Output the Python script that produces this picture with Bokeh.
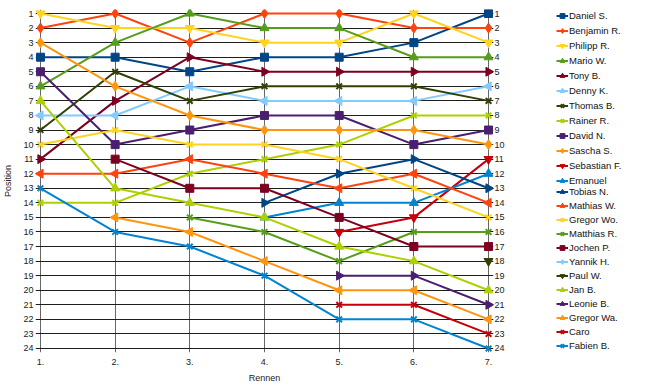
import math
import numpy as np
from bokeh.plotting import figure
from bokeh.layouts import row
from bokeh.models import Range1d, FixedTicker, ColumnDataSource, Legend, LegendItem, LinearAxis
from bokeh.embed import file_html
from bokeh.resources import INLINE

N = None
races = [1, 2, 3, 4, 5, 6, 7]
race_labels = ["1.", "2.", "3.", "4.", "5.", "6.", "7."]
position_ticks = list(range(1, 25))

names = ["Daniel S.", "Benjamin R.", "Philipp R.", "Mario W.", "Tony B.", "Denny K.",
         "Thomas B.", "Rainer R.", "David N.", "Sascha S.", "Sebastian F.", "Emanuel",
         "Tobias N.", "Mathias W.", "Gregor Wo.", "Matthias R.", "Jochen P.", "Yannik H.",
         "Paul W.", "Jan B.", "Leonie B.", "Gregor Wa.", "Caro", "Fabien B."]

daniel_s = [4, 4, 5, 4, 4, 3, 1]
benjamin_r = [2, 1, 3, 1, 1, 2, 2]
philipp_r = [1, 2, 2, 3, 3, 1, 3]
mario_w = [6, 3, 1, 2, 2, 4, 4]
tony_b = [11, 7, 4, 5, 5, 5, 5]
denny_k = [8, 8, 6, 7, 7, 7, 6]
thomas_b = [9, 5, 7, 6, 6, 6, 7]
rainer_r = [14, 14, 12, 11, 10, 8, 8]
david_n = [5, 10, 9, 8, 8, 10, 9]
sascha_s = [3, 6, 8, 9, 9, 9, 10]
sebastian_f = [N, N, N, N, 16, 15, 11]
emanuel = [N, N, N, 15, 14, 14, 12]
tobias_n = [N, N, N, 14, 12, 11, 13]
mathias_w = [12, 12, 11, 12, 13, 12, 14]
gregor_wo = [10, 9, 10, 10, 11, 13, 15]
matthias_r = [N, N, 15, 16, 18, 16, 16]
jochen_p = [N, 11, 13, 13, 15, 17, 17]
yannik_h = [N, N, N, N, N, N, N]
paul_w = [N, N, N, N, N, N, 18]
jan_b = [7, 13, 14, 15, 17, 18, 20]
leonie_b = [N, N, N, N, 19, 19, 21]
gregor_wa = [N, 15, 16, 18, 20, 20, 22]
caro = [N, N, N, N, 21, 21, 23]
fabien_b = [13, 16, 17, 19, 22, 22, 24]

series = [daniel_s, benjamin_r, philipp_r, mario_w, tony_b, denny_k, thomas_b, rainer_r,
          david_n, sascha_s, sebastian_f, emanuel, tobias_n, mathias_w, gregor_wo,
          matthias_r, jochen_p, yannik_h, paul_w, jan_b, leonie_b, gregor_wa, caro, fabien_b]

palette = ["#004586", "#ff420e", "#ffd320", "#579d1c", "#7e0021", "#83caff",
           "#314004", "#aecf00", "#4b1f6f", "#ff950e", "#c5000b", "#0084d1"]

# marker shape cycle: square, diamond, down, up, right, left, bowtie, hourglass
marker_cycle = [("square", 0.0, 8), ("diamond", 0.0, 10), ("inverted_triangle", 0.0, 9),
                ("triangle", 0.0, 9), ("triangle", -math.pi / 2, 9), ("triangle", math.pi / 2, 9),
                ("x", 0.0, 8), ("x", 0.0, 8)]

FONT = "Liberation Sans"
H = 387

p = figure(width=520, height=H, output_backend="svg", toolbar_location=None,
           x_range=Range1d(0.93363, 7.06637), y_range=Range1d(24.27463, 0.72537),
           min_border_left=31, min_border_right=27, min_border_top=9, min_border_bottom=35)
p.outline_line_color = None
p.background_fill_color = "white"

right_axis = LinearAxis()
p.add_layout(right_axis, "right")

p.xaxis.ticker = FixedTicker(ticks=races)
p.xaxis.major_label_overrides = {r: l for r, l in zip(races, race_labels)}
for ax in p.yaxis:
    ax.ticker = FixedTicker(ticks=position_ticks)
for ax in list(p.xaxis) + list(p.yaxis):
    ax.axis_line_color = None
    ax.major_tick_line_color = None
    ax.minor_tick_line_color = None
    ax.major_tick_out = 0
    ax.major_tick_in = 0
    ax.minor_tick_out = 0
    ax.minor_tick_in = 0
    ax.major_label_text_font = FONT
    ax.major_label_text_font_size = "9px"
    ax.major_label_text_color = "#222222"
    ax.axis_label_text_font = FONT
    ax.axis_label_text_font_size = "9px"
    ax.axis_label_text_font_style = "normal"
    ax.axis_label_text_color = "#222222"
p.xaxis.major_label_standoff = 6
p.xaxis.axis_label = "Rennen"
p.xaxis.axis_label_standoff = 5
p.yaxis[0].axis_label = "Position"
p.yaxis[0].axis_label_standoff = 7
p.yaxis[0].major_label_standoff = 2
right_axis.major_label_standoff = 1

p.xgrid.ticker = FixedTicker(ticks=races)
p.ygrid.ticker = FixedTicker(ticks=position_ticks)
p.xgrid.grid_line_color = "#666666"
p.ygrid.grid_line_color = "#1e1e1e"

# legend panel: a second figure (its frame is aligned with the main frame: y 9..352)
lg = figure(width=130, height=H, output_backend="svg", toolbar_location=None,
            x_range=Range1d(0, 1), y_range=Range1d(0, 1),
            x_axis_location=None, y_axis_location=None,
            min_border_left=0, min_border_right=0, min_border_top=0, min_border_bottom=0)
lg.outline_line_color = None
lg.xgrid.visible = False
lg.ygrid.visible = False

items = []
for i, (name, vals) in enumerate(zip(names, series)):
    color = palette[i % len(palette)]
    mk, ang, sz = marker_cycle[i % len(marker_cycle)]
    y = [np.nan if v is None else v for v in vals]
    src = ColumnDataSource(dict(x=races, y=y))
    p.line("x", "y", source=src, line_color=color, line_width=2)
    p.scatter("x", "y", source=src, marker=mk, angle=ang, size=sz,
              fill_color=color, line_color=color, line_width=2 if mk == "x" else 1)
    # legend swatches (no data points of their own)
    dummy = ColumnDataSource(dict(x=[np.nan], y=[np.nan]))
    lr = lg.line("x", "y", source=dummy, line_color=color, line_width=2)
    sr = lg.scatter("x", "y", source=dummy, marker=mk, angle=ang, size=sz - 1,
                    fill_color=color, line_color=color, line_width=2 if mk == "x" else 1)
    items.append(LegendItem(label=name, renderers=[lr, sr]))

for part, loc, gap in ((items[:12], (36, 165), 2), (items[12:], (36, 0), 1)):
    leg = Legend(items=part, location=loc, orientation="vertical",
                 glyph_height=13, glyph_width=12, label_height=13,
                 spacing=gap, padding=0, margin=0, label_standoff=1,
                 label_text_font=FONT, label_text_font_size="9.5px",
                 label_text_color="#111111",
                 border_line_color=None, background_fill_alpha=0)
    lg.add_layout(leg)

layout = row(p, lg, spacing=0)
open("out.html", "w").write(file_html(layout, INLINE))
